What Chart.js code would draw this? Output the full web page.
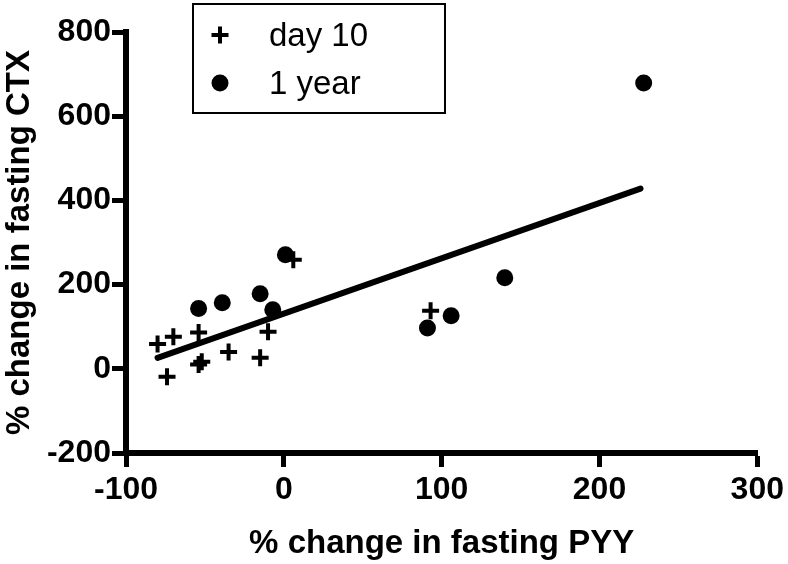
<!DOCTYPE html>
<html>
<head>
<meta charset="utf-8">
<title>PYY vs CTX</title>
<script src="https://cdn.jsdelivr.net/npm/chart.js@4.4.0/dist/chart.umd.min.js"></script>
<style>
    html, body { margin: 0; padding: 0; background: #fff; }
    #wrap { width: 788px; height: 564px; }
</style>
</head>
<body>
<div id="wrap"><canvas id="canvasData" width="788" height="564"></canvas></div>
<script>
// values
var day10X = [-80, -70, -54, -74, -54, -52, -35, -15, -10, 6, 93];
var day10Y = [59, 76, 86, -19, 10, 17, 40, 26, 88, 259, 138];

var year1X = [-54, -39, -15, -7, 1, 91, 106, 140, 228];
var year1Y = [143, 157, 178, 140, 271, 97, 126, 216, 679];

// fitted line, two ends
var fitX = [-80, 226];
var fitY = [26, 428];

var xTicks = [-100, 0, 100, 200, 300];
var yTicks = [-200, 0, 200, 400, 600, 800];

var seriesLabels = ["day 10", "1 year"];
var xTitle = "% change in fasting PYY";
var yTitle = "% change in fasting CTX";

var fontFam = "'Liberation Sans', Arial, Helvetica, sans-serif";

var toPoints = function (xs, ys) {
    var pts = [];
    for (var c = 0; c < xs.length; c++) {
        pts.push({ x: xs[c], y: ys[c] });
    }
    return pts;
};

var crossStyle = { pointStyle: "cross", radius: 8.5, borderWidth: 4, rotation: 0 };
var dotStyle = { pointStyle: "circle", radius: 8.5, borderWidth: 0, rotation: 0 };

// boxed legend sitting over the plot
var boxLegend = {
    id: "boxLegend",
    afterDraw: function (chart) {
        var ctx = chart.ctx;
        ctx.save();
        ctx.strokeStyle = "#000";
        ctx.fillStyle = "#000";
        ctx.lineWidth = 2;
        ctx.strokeRect(193, 4, 252, 109);

        ctx.lineWidth = 4;
        Chart.helpers.drawPoint(ctx, crossStyle, 220, 35);
        ctx.lineWidth = 0;
        Chart.helpers.drawPoint(ctx, dotStyle, 220, 83);

        ctx.font = "33px " + fontFam;
        ctx.textBaseline = "middle";
        ctx.textAlign = "left";
        ctx.fillText(seriesLabels[0], 269, 37);
        ctx.fillText(seriesLabels[1], 269, 85);
        ctx.restore();
    }
};

var axisStyle = function (min, max, ticks, title, pad, fixSize) {
    return {
        type: "linear",
        min: min,
        max: max,
        afterBuildTicks: function (scale) {
            scale.ticks = ticks.map(function (v) { return { value: v }; });
        },
        afterFit: fixSize,
        ticks: {
            color: "#000",
            font: { family: fontFam, size: 32, weight: "bold" },
            padding: pad,
            maxRotation: 0,
            autoSkip: false
        },
        grid: {
            drawOnChartArea: false,
            drawTicks: true,
            tickLength: 14,
            tickWidth: 5,
            tickColor: "#000",
            color: "#000"
        },
        border: { display: true, color: "#000", width: 6 },
        title: {
            display: true,
            text: title,
            color: "#000",
            font: { family: fontFam, size: 33, weight: "bold" },
            padding: 0
        }
    };
};

var ctx = document.getElementById("canvasData").getContext("2d");
var chart = new Chart(ctx, {
    type: "scatter",
    data: {
        datasets: [
            {
                label: seriesLabels[0],
                data: toPoints(day10X, day10Y),
                pointStyle: "cross",
                pointRadius: 8.5,
                pointBorderWidth: 4,
                borderColor: "#000",
                backgroundColor: "#000"
            },
            {
                label: seriesLabels[1],
                data: toPoints(year1X, year1Y),
                pointStyle: "circle",
                pointRadius: 8.5,
                pointBorderWidth: 0,
                borderColor: "#000",
                backgroundColor: "#000"
            },
            {
                label: "fit",
                type: "line",
                data: toPoints(fitX, fitY),
                showLine: true,
                borderColor: "#000",
                borderWidth: 6,
                borderCapStyle: "round",
                pointRadius: 0,
                fill: false
            }
        ]
    },
    options: {
        responsive: false,
        devicePixelRatio: 1,
        animation: false,
        layout: { padding: { top: 32, right: 28, left: 0, bottom: 0 } },
        plugins: {
            legend: { display: false },
            tooltip: { enabled: false }
        },
        scales: {
            x: axisStyle(-100, 300, xTicks, xTitle, 4, function (scale) { scale.height = 111; }),
            y: axisStyle(-200, 800, yTicks, yTitle, 1, function (scale) { scale.width = 126; })
        }
    },
    plugins: [boxLegend]
});
</script>
</body>
</html>
